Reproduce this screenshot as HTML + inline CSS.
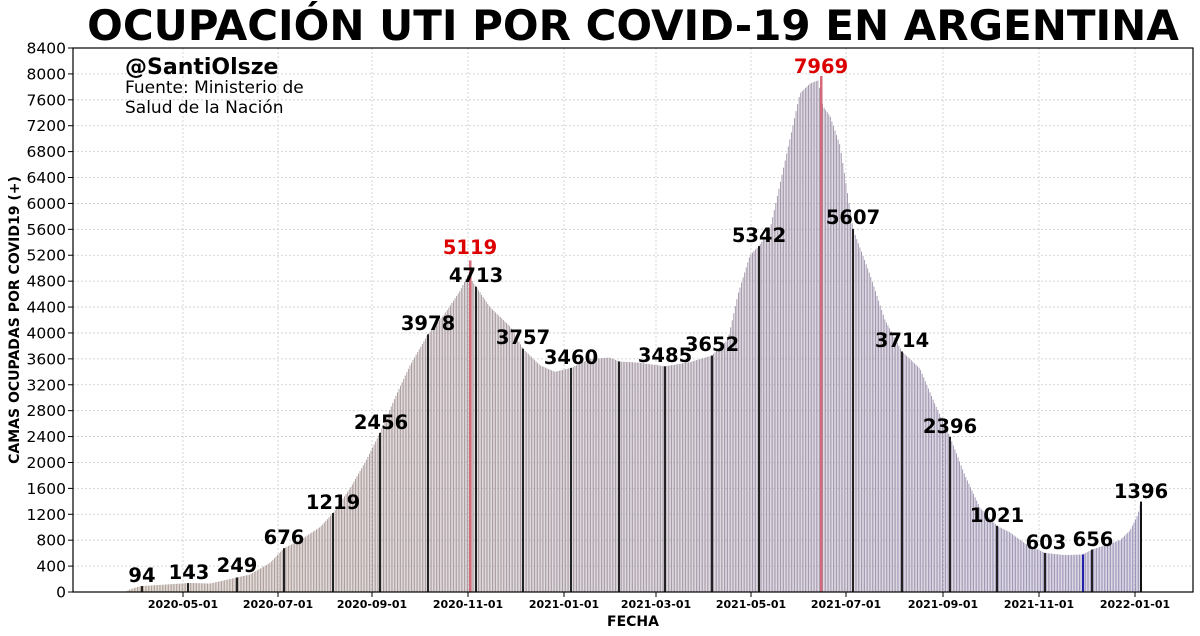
<!DOCTYPE html>
<html><head><meta charset="utf-8"><style>
body{margin:0;background:#fff;width:1200px;height:636px;overflow:hidden}
svg{display:block;font-family:"DejaVu Sans","Liberation Sans",sans-serif}
</style></head><body>
<svg id="s" width="1200" height="636" viewBox="0 0 1200 636" xmlns="http://www.w3.org/2000/svg">
<text x="633" y="40" text-anchor="middle" font-size="42" font-weight="bold">OCUPACIÓN UTI POR COVID-19 EN ARGENTINA</text>
<g id="grid" stroke="#ccc" stroke-width="0.8" stroke-dasharray="2,2"></g>
<g id="bars"></g>
<g id="yl" font-size="15.5" text-anchor="end"></g>
<g id="xl" font-size="11" font-weight="bold" text-anchor="middle"></g>
<rect x="73" y="48" width="1120" height="544" fill="none" stroke="#000" stroke-width="1.2"/>
<text x="125" y="74" font-size="22" font-weight="bold">@SantiOlsze</text>
<text x="125" y="93" font-size="17">Fuente: Ministerio de</text>
<text x="125" y="113" font-size="17">Salud de la Nación</text>
<text x="633" y="626" text-anchor="middle" font-size="14" font-weight="bold">FECHA</text>
<text transform="translate(19,320) rotate(-90)" text-anchor="middle" font-size="14" font-weight="bold">CAMAS OCUPADAS POR COVID19 (+)</text>
<g font-size="19.5" font-weight="bold" text-anchor="middle">
<text x="142" y="582">94</text><text x="189" y="579">143</text><text x="237" y="572">249</text>
<text x="284" y="544">676</text><text x="333" y="509">1219</text><text x="381" y="429">2456</text>
<text x="428" y="330">3978</text><text x="470" y="254" fill="#d00">5119</text><text x="476" y="282">4713</text>
<text x="523" y="344">3757</text><text x="571" y="364">3460</text><text x="665" y="362">3485</text>
<text x="712" y="351">3652</text><text x="759" y="242">5342</text><text x="821" y="73" fill="#d00">7969</text>
<text x="853" y="224">5607</text><text x="902" y="347">3714</text><text x="950" y="433">2396</text>
<text x="997" y="522">1021</text><text x="1046" y="549">603</text><text x="1093" y="546">656</text>
<text x="1141" y="498">1396</text>
</g>
</svg>
<script>
var NS="http://www.w3.org/2000/svg";
function Y(v){return 592-v*544/8400;}
var g=document.getElementById('grid'),yl=document.getElementById('yl'),xl=document.getElementById('xl'),b=document.getElementById('bars');
function el(t,a,p){var e=document.createElementNS(NS,t);for(var k in a)e.setAttribute(k,a[k]);p.appendChild(e);return e;}
for(var v=0;v<=8400;v+=400){var y=Y(v);el('line',{x1:73,x2:1193,y1:y,y2:y},g);el('line',{x1:68,x2:73,y1:y,y2:y,stroke:'#000'},yl);var t=el('text',{x:66,y:y+5.5},yl);t.textContent=v;}
var dl=['2020-05-01','2020-07-01','2020-09-01','2020-11-01','2021-01-01','2021-03-01','2021-05-01','2021-07-01','2021-09-01','2021-11-01','2022-01-01'];
var xs=[183,278,372,468,564,656,751,846,943,1039,1135];
for(var i=0;i<xs.length;i++){el('line',{x1:xs[i],x2:xs[i],y1:48,y2:592},g);el('line',{x1:xs[i],x2:xs[i],y1:592,y2:597,stroke:'#000'},xl);var t=el('text',{x:xs[i],y:608},xl);t.textContent=dl[i];}
var k=[[125,0],[130,40],[140,90],[160,110],[190,140],[210,130],[230,200],[250,270],[270,450],[284,676],[300,800],[320,1000],[333,1219],[350,1600],[365,2000],[380,2456],[395,3000],[410,3500],[428,3978],[445,4300],[460,4650],[468,4900],[476,4713],[490,4400],[510,4100],[523,3757],[540,3500],[555,3400],[571,3460],[590,3600],[610,3620],[619,3560],[640,3540],[665,3485],[690,3550],[712,3652],[728,3900],[738,4600],[750,5200],[759,5342],[770,5600],[780,6300],[790,7000],[800,7700],[810,7850],[818,7900],[823,7500],[830,7350],[840,6900],[853,5607],[870,4900],[885,4200],[902,3714],[920,3450],[935,2900],[950,2396],[965,1800],[980,1300],[997,1021],[1010,920],[1025,750],[1045,603],[1065,570],[1083,580],[1092,656],[1105,720],[1120,800],[1130,950],[1138,1200],[1141,1396]];
function val(x){for(var i=1;i<k.length;i++){if(x<=k[i][0]){var a=k[i-1],c=k[i];return a[1]+(c[1]-a[1])*(x-a[0])/(c[0]-a[0]);}}return 0;}
var spec={142:'#222',188:'#222',237:'#222',284:'#222',333:'#222',380:'#222',428:'#222',476:'#222',523:'#222',571:'#222',619:'#222',665:'#222',712:'#222',759:'#222',853:'#222',902:'#222',950:'#222',997:'#222',1045:'#222',1092:'#222',1083:'#22a',1141:'#111'};
for(var x=125;x<=1141;x+=1.557){var v=val(x);var f=(x-125)/1016;var r=Math.round(170-20*f),gg=Math.round(152-12*f),bb=Math.round(140+40*f);var y=Y(v);el('rect',{x:x-0.45,y:y,width:0.9,height:592-y,fill:'rgb('+r+','+gg+','+bb+')'},b);}
for(var s in spec){var x=+s,v=val(x);el('rect',{x:x-1,y:Y(v),width:2,height:592-Y(v),fill:spec[s]},b);}
el('rect',{x:469,y:Y(5119),width:2.5,height:592-Y(5119),fill:'#d46a78'},b);
el('rect',{x:820,y:Y(7969),width:2.5,height:592-Y(7969),fill:'#d46a78'},b);
</script>
</body></html>
